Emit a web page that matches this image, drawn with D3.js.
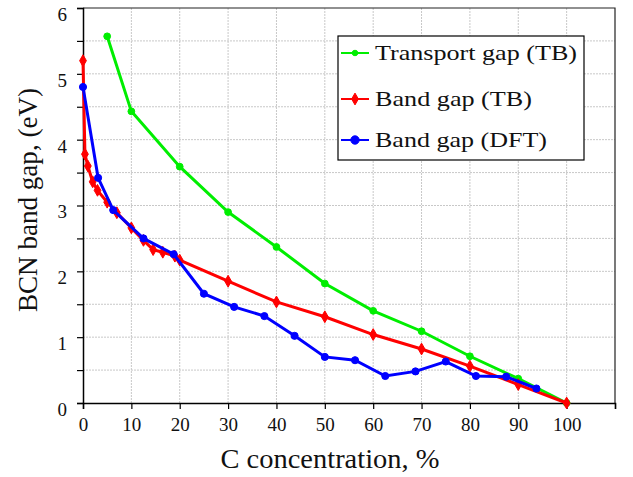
<!DOCTYPE html>
<html>
<head>
<meta charset="utf-8">
<script src="https://cdnjs.cloudflare.com/ajax/libs/d3/7.8.5/d3.min.js"></script>
</head>
<body style="margin:0">
<script>
//Data
var greenX = [5, 10, 20, 30, 40, 50, 60, 70, 80, 90, 100];
var greenY = [5.57, 4.43, 3.59, 2.90, 2.37, 1.815, 1.40, 1.09, 0.71, 0.37, 0];

var redX = [0, 0.4, 1, 2, 3, 5, 7, 10, 12.5, 14.5, 16.5, 19, 20, 30, 40, 50, 60, 70, 80, 90, 100];
var redY = [5.2, 3.78, 3.6, 3.36, 3.23, 3.05, 2.89, 2.66, 2.47, 2.33, 2.29, 2.23, 2.17, 1.85, 1.535, 1.31, 1.04, 0.82, 0.56, 0.28, 0];

var blueX = [0, 3.125, 6.25, 12.5, 18.75, 25, 31.25, 37.5, 43.75, 50, 56.25, 62.5, 68.75, 75, 81.25, 87.5, 93.75];
var blueY = [4.8, 3.42, 2.93, 2.50, 2.26, 1.66, 1.46, 1.32, 1.02, 0.70, 0.65, 0.41, 0.48, 0.63, 0.41, 0.40, 0.22];

var xTicks = [0, 10, 20, 30, 40, 50, 60, 70, 80, 90, 100];
var yTicks = [0, 1, 2, 3, 4, 5, 6];
var seriesNames = ["Transport gap (TB)", "Band gap (TB)", "Band gap (DFT)"];

var w = 633, h = 477;
var margin = {top: 8, right: 18, bottom: 74, left: 83};
var iw = w - margin.left - margin.right;
var ih = h - margin.top - margin.bottom;

//Serif text, optionally fitted to the width seen in the picture
function serif(sel, size, len) {
  sel.style("font-family", "'Liberation Serif'")
    .style("font-size", size + "px")
    .attr("fill", "#111");
  if (len) sel.attr("textLength", len).attr("lengthAdjust", "spacingAndGlyphs");
}

var svg = d3.select("body").append("svg")
  .attr("width", w)
  .attr("height", h);

svg.append("style")
  .text("text { font-family: 'Liberation Serif', 'Tinos', 'Times New Roman', serif; }");

var g = svg.append("g")
  .attr("transform", "translate(" + margin.left + "," + margin.top + ")");

//Scales
var x = d3.scaleLinear().domain([0, 110]).range([0, iw]);
var y = d3.scaleLinear().domain([0, 6]).range([ih, 0]);

//Grid
g.append("g")
  .selectAll("line")
  .data(d3.range(0.5, 6, 0.5))
  .enter().append("line")
    .attr("x1", 0).attr("x2", iw)
    .attr("y1", d => y(d)).attr("y2", d => y(d))
    .attr("stroke", "#c8c8c8").attr("stroke-dasharray", "2,1");
g.append("g")
  .selectAll("line")
  .data(xTicks.slice(1))
  .enter().append("line")
    .attr("x1", d => x(d)).attr("x2", d => x(d))
    .attr("y1", 0).attr("y2", ih)
    .attr("stroke", "#c8c8c8").attr("stroke-dasharray", "2,1");

//Frame (top and right)
g.append("path")
  .attr("d", "M0,0H" + iw + "V" + ih)
  .attr("fill", "none")
  .attr("stroke", "#222")
  .attr("stroke-width", 1.2);

//Axes
var xAxis = g.append("g")
  .attr("transform", "translate(0," + ih + ")")
  .call(d3.axisBottom(x).tickValues(xTicks.concat([110])).tickSize(6).tickPadding(9)
    .tickFormat(d => d > 100 ? "" : d));
var yAxis = g.append("g")
  .call(d3.axisLeft(y).tickValues(d3.range(0, 6.01, 0.5)).tickSize(6).tickPadding(10)
    .tickFormat(d => yTicks.indexOf(d) >= 0 ? d : ""));

xAxis.attr("font-family", null).attr("font-size", null);
yAxis.attr("font-family", null).attr("font-size", null);
g.selectAll(".domain").attr("stroke", "#000").attr("stroke-width", 1.5);
g.selectAll(".tick line").attr("stroke", "#000").attr("stroke-width", 1.2);
xAxis.selectAll("text").call(serif, 19);
yAxis.selectAll("text").attr("dy", "0.65em").call(serif, 19);

//Axis titles
svg.append("text")
  .attr("x", 330).attr("y", 468)
  .attr("text-anchor", "middle")
  .text("C concentration, %")
  .call(serif, 28, 219);
svg.append("text")
  .attr("transform", "translate(37,200) rotate(-90)")
  .attr("text-anchor", "middle")
  .text("BCN band gap, (eV)")
  .call(serif, 27, 224);

//Series
var series = [
  {name: seriesNames[0], xs: greenX, ys: greenY, color: "#00ee00", shape: "circle", size: 36},
  {name: seriesNames[1], xs: redX, ys: redY, color: "#ff0000", shape: "diamond", size: 40},
  {name: seriesNames[2], xs: blueX, ys: blueY, color: "#0000ff", shape: "circle", size: 40}
];

var line = d3.line().x(d => x(d[0])).y(d => y(d[1]));

function marker(sel, s, size) {
  var sym = s.shape == "diamond" ? d3.symbolDiamond : d3.symbolCircle;
  return sel.append("path")
    .attr("d", d3.symbol().type(sym).size(size))
    .attr("fill", s.color)
    .attr("stroke", s.color);
}

series.forEach(function(s) {
  var pts = s.xs.map((v, i) => [v, s.ys[i]]);
  g.append("path")
    .datum(pts)
    .attr("d", line)
    .attr("fill", "none")
    .attr("stroke", s.color)
    .attr("stroke-width", 3);
  pts.forEach(function(p) {
    marker(g, s, s.size)
      .attr("transform", "translate(" + x(p[0]) + "," + y(p[1]) + ")");
  });
});

//Legend
var leg = svg.append("g").attr("transform", "translate(338,36)");
leg.append("rect")
  .attr("width", 246).attr("height", 124)
  .attr("fill", "#fff")
  .attr("stroke", "#000")
  .attr("stroke-width", 1.2);
var legY = [17, 63, 104];
var legMarker = [24, 40, 55];
var legLen = [202, 157, 172];
series.forEach(function(s, i) {
  var row = leg.append("g").attr("transform", "translate(0," + legY[i] + ")");
  row.append("line")
    .attr("x1", 3).attr("x2", 31)
    .attr("stroke", s.color).attr("stroke-width", 2);
  marker(row, s, legMarker[i]).attr("transform", "translate(17,0)");
  row.append("text")
    .attr("x", 37).attr("y", 7)
    .text(s.name)
    .call(serif, 22, legLen[i]);
});
</script>
</body>
</html>
